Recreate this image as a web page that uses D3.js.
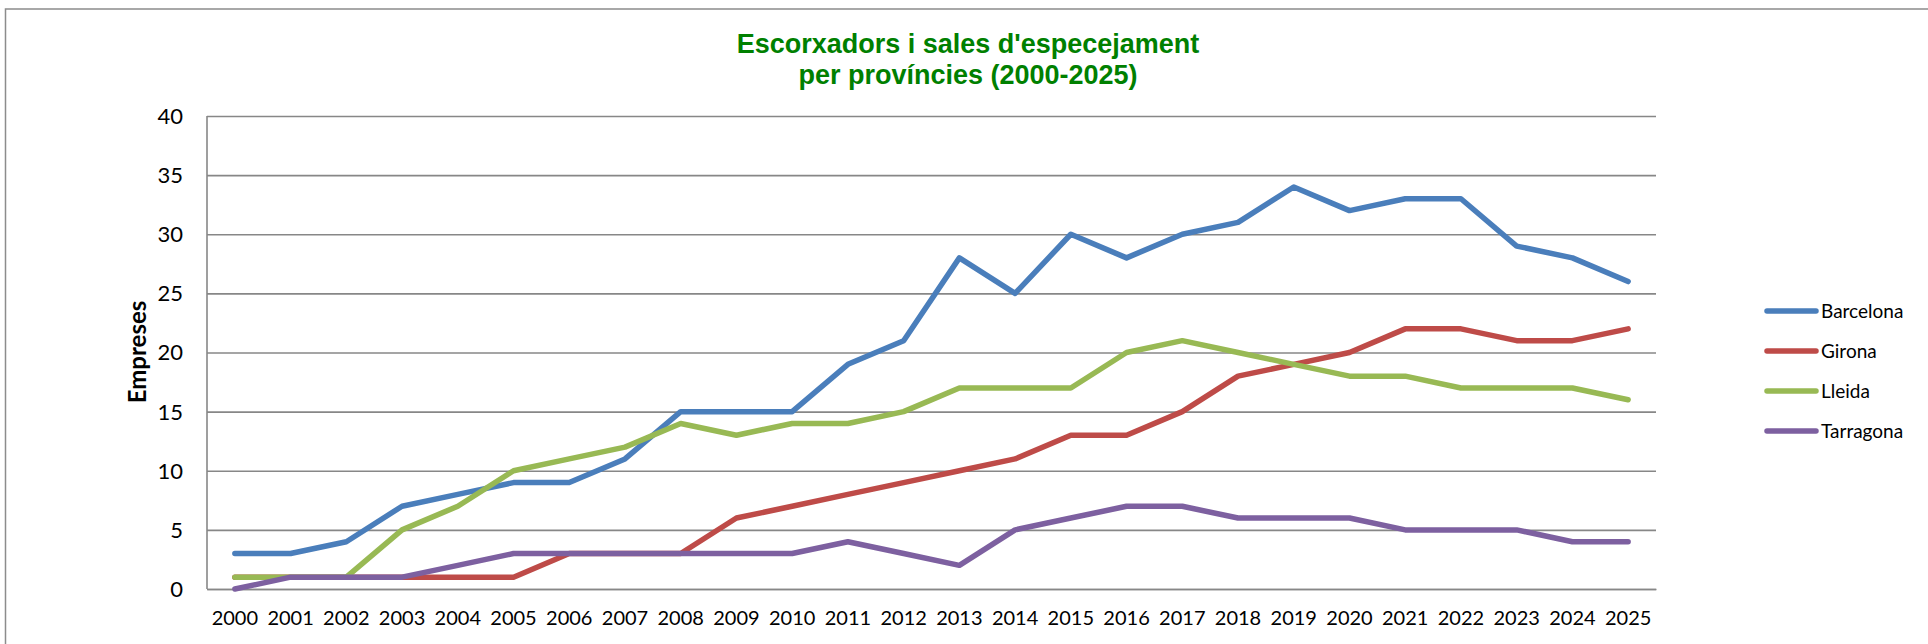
<!DOCTYPE html>
<html>
<head>
<meta charset="utf-8">
<script src="https://cdn.jsdelivr.net/npm/d3@7"></script>
<style>
  html, body { margin: 0; padding: 0; background: #fff; }
  svg { display: block; }
</style>
</head>
<body>
<svg id="chart" width="1928" height="644"></svg>
<script>
// Years on the category axis
const years = ["2000","2001","2002","2003","2004","2005","2006","2007","2008","2009","2010","2011","2012",
               "2013","2014","2015","2016","2017","2018","2019","2020","2021","2022","2023","2024","2025"];

// Number of companies per province
const barcelona = [3,3,4,7,8,9,9,11,15,15,15,19,21,28,25,30,28,30,31,34,32,33,33,29,28,26];
const girona    = [1,1,1,1,1,1,3,3,3,6,7,8,9,10,11,13,13,15,18,19,20,22,22,21,21,22];
const lleida    = [1,1,1,5,7,10,11,12,14,13,14,14,15,17,17,17,20,21,20,19,18,18,17,17,17,16];
const tarragona = [0,1,1,1,2,3,3,3,3,3,3,4,3,2,5,6,7,7,6,6,6,5,5,5,4,4];

const seriesNames = ["Barcelona","Girona","Lleida","Tarragona"];
const seriesValues = [barcelona, girona, lleida, tarragona];
const seriesColors = ["#4a7ebb","#be4b48","#98b954","#7d60a0"];

const yTicks = [0,5,10,15,20,25,30,35,40];

const titleLines = ["Escorxadors i sales d'especejament", "per províncies (2000-2025)"];
const yTitle = "Empreses";

const svg = d3.select("#chart");
const font = "Lato, 'Open Sans', sans-serif";

// Outer chart frame (only top and left edges fall inside the view)
svg.append("rect")
  .attr("x", 5.5).attr("y", 9)
  .attr("width", 2000).attr("height", 700)
  .attr("fill", "none").attr("stroke", "#8c8c8c").attr("stroke-width", 1.5);

const plot = { left: 207, right: 1656, top: 116, bottom: 589 };

const x = d3.scaleBand().domain(years).range([plot.left, plot.right]).padding(0);
const y = d3.scaleLinear().domain([0, 40]).range([plot.bottom, plot.top]);
const cx = d => x(d) + x.bandwidth() / 2;

// Horizontal gridlines
const yAxis = d3.axisLeft(y).tickValues(yTicks).tickSize(-(plot.right - plot.left)).tickPadding(24);
const gy = svg.append("g").attr("transform", `translate(${plot.left},0)`).call(yAxis);
gy.select(".domain").remove();
gy.selectAll(".tick line").attr("stroke", "#878787").attr("stroke-width", 1.6);
gy.selectAll(".tick text")
  .attr("font-family", font).attr("font-size", 22).attr("fill", "#000")
  .attr("dy", "0.34em");

// Vertical value axis line
svg.append("line")
  .attr("x1", plot.left).attr("x2", plot.left)
  .attr("y1", plot.top).attr("y2", plot.bottom)
  .attr("stroke", "#878787").attr("stroke-width", 1.6);

// Category axis labels
const xAxis = d3.axisBottom(x).tickSize(0).tickPadding(22);
const gx = svg.append("g").attr("transform", `translate(0,${plot.bottom})`).call(xAxis);
gx.select(".domain").attr("stroke", "#878787").attr("stroke-width", 1.6);
gx.selectAll(".tick text")
  .attr("font-family", font).attr("font-size", 20).attr("fill", "#000");

// Series lines
const line = d3.line().x((d, i) => cx(years[i])).y(d => y(d));
seriesValues.forEach((vals, k) => {
  svg.append("path")
    .datum(vals)
    .attr("d", line)
    .attr("fill", "none")
    .attr("stroke", seriesColors[k])
    .attr("stroke-width", 5.5)
    .attr("stroke-linejoin", "round")
    .attr("stroke-linecap", "round");
});

// Title
const title = svg.append("text")
  .attr("x", 968).attr("y", 53)
  .attr("text-anchor", "middle")
  .attr("font-family", "'Liberation Sans', Arial, sans-serif")
  .attr("font-weight", "bold")
  .attr("font-size", 27)
  .attr("fill", "#008000");
titleLines.forEach((t, i) => {
  title.append("tspan").attr("x", 968).attr("dy", i === 0 ? 0 : 31).text(t);
});

// Value axis title
svg.append("text")
  .attr("transform", "translate(146,352) rotate(-90)")
  .attr("text-anchor", "middle")
  .attr("font-family", font)
  .attr("font-weight", "bold")
  .attr("font-size", 24)
  .attr("fill", "#000")
  .text(yTitle);

// Legend
const legend = svg.append("g");
seriesNames.forEach((name, k) => {
  const ly = 311 + k * 40;
  legend.append("line")
    .attr("x1", 1767).attr("x2", 1816)
    .attr("y1", ly).attr("y2", ly)
    .attr("stroke", seriesColors[k])
    .attr("stroke-width", 5.5)
    .attr("stroke-linecap", "round");
  legend.append("text")
    .attr("x", 1821).attr("y", ly)
    .attr("dy", "0.35em")
    .attr("font-family", font)
    .attr("font-size", 19)
    .attr("fill", "#000")
    .text(name);
});
</script>
</body>
</html>
